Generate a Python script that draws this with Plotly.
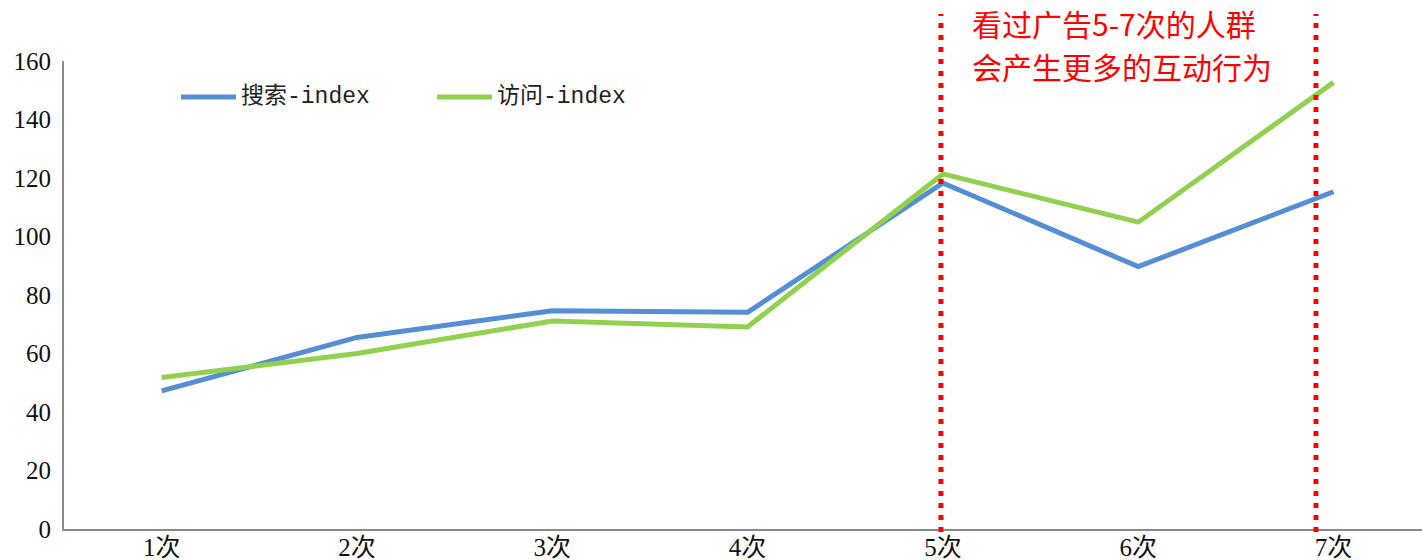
import plotly.graph_objects as go

# Exposure frequency categories
categories = ["1次", "2次", "3次", "4次", "5次", "6次", "7次"]

# Index values per exposure count
search_index = [47.2, 65.5, 74.6, 74.1, 118.3, 89.7, 115.3]
visit_index = [51.8, 60.0, 71.1, 69.1, 121.4, 104.9, 152.7]

series_names = ["搜索-index", "访问-index"]
series_colors = ["#558ED5", "#92D050"]

y_ticks = [0, 20, 40, 60, 80, 100, 120, 140, 160]

# Highlighted window (category positions on the x axis)
highlight_bounds = [3.99, 5.91]
callout_lines = ["看过广告5-7次的人群", "会产生更多的互动行为"]

W, H = 1422, 560
M_L, M_R, M_T, M_B = 64, 0, 61, 31
plot_w = W - M_L - M_R
plot_h = H - M_T - M_B


def px_x(p):
    return (p - M_L) / plot_w


def px_y(p):
    return (H - M_B - p) / plot_h


tick_font = dict(family="Liberation Serif, Noto Sans CJK SC", size=25, color="#111111")

fig = go.Figure()
for name, vals, col in zip(series_names, [search_index, visit_index], series_colors):
    fig.add_trace(go.Scatter(
        x=categories, y=vals, mode="lines", name=name,
        line=dict(color=col, width=5), showlegend=False,
    ))

shapes = []
# red dotted guides spanning the highlighted window
for xv in highlight_bounds:
    shapes.append(dict(
        type="line", xref="x", yref="paper", x0=xv, x1=xv,
        y0=px_y(532), y1=px_y(14),
        line=dict(color="#FF0000", width=5, dash="5px,7px"), layer="above",
    ))

# legend samples
legend_x = [181, 437]
annotations = []
for lx, name, col in zip(legend_x, series_names, series_colors):
    shapes.append(dict(
        type="line", xref="paper", yref="paper",
        x0=px_x(lx), x1=px_x(lx + 55), y0=px_y(97), y1=px_y(97),
        line=dict(color=col, width=5),
    ))
    annotations.append(dict(
        text=name, xref="paper", yref="paper", x=px_x(lx + 58), y=px_y(97),
        xanchor="left", yanchor="middle", showarrow=False,
        font=dict(family="Liberation Mono, Noto Sans CJK SC", size=23, color="#222222"),
    ))

# two-line red callout
for line_text, cy in zip(callout_lines, [22.5, 66]):
    annotations.append(dict(
        text=line_text, xref="paper", yref="paper", x=px_x(970), y=px_y(cy),
        xanchor="left", yanchor="middle", showarrow=False,
        font=dict(family="Noto Sans CJK SC", size=30, color="#FF0000"),
    ))

fig.update_layout(
    width=W, height=H,
    margin=dict(l=M_L, r=M_R, t=M_T, b=M_B),
    paper_bgcolor="white", plot_bgcolor="white",
    shapes=shapes, annotations=annotations,
    xaxis=dict(
        type="category", categoryorder="array", categoryarray=categories,
        range=[-0.5, 6.453], showgrid=False, zeroline=False,
        showline=True, linecolor="#898989", linewidth=2,
        ticks="", tickfont=tick_font, ticklabelstandoff=-5, automargin=False,
    ),
    yaxis=dict(
        range=[0, 160], tickvals=y_ticks, showgrid=False, zeroline=False,
        showline=True, linecolor="#898989", linewidth=2,
        ticks="", tickfont=tick_font, ticklabelstandoff=6, automargin=False,
    ),
)

fig.write_html("out.html")
